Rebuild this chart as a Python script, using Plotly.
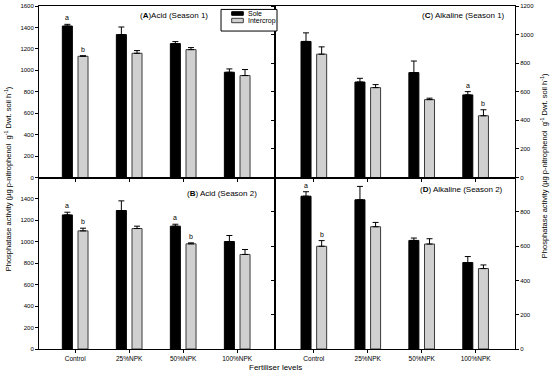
import plotly.graph_objects as go
from plotly.subplots import make_subplots

categories = ["Control", "25%NPK", "50%NPK", "100%NPK"]

# (A) Acid Season 1
a_sole = [1413, 1333, 1249, 982]
a_sole_err = [16, 71, 19, 31]
a_inter = [1131, 1159, 1193, 951]
a_inter_err = [5, 25, 19, 56]
a_sole_let = ["a", "", "", ""]
a_inter_let = ["b", "", "", ""]

# (B) Acid Season 2
b_sole = [1251, 1292, 1146, 1003]
b_sole_err = [25, 90, 18, 56]
b_inter = [1102, 1124, 981, 882]
b_inter_err = [25, 22, 9, 46]
b_sole_let = ["a", "", "a", ""]
b_inter_let = ["b", "", "b", ""]

# (C) Alkaline Season 1
c_sole = [952, 668, 734, 578]
c_sole_err = [60, 26, 81, 23]
c_inter = [863, 629, 545, 432]
c_inter_err = [51, 21, 10, 42]
c_sole_let = ["", "", "", "a"]
c_inter_let = ["", "", "", "b"]

# (D) Alkaline Season 2
d_sole = [891, 870, 633, 504]
d_sole_err = [26, 78, 14, 35]
d_inter = [599, 713, 612, 469]
d_inter_err = [33, 25, 31, 21]
d_sole_let = ["a", "", "", ""]
d_inter_let = ["b", "", "", ""]

left_ticks_top = [0, 200, 400, 600, 800, 1000, 1200, 1400, 1600]
left_ticks_bot = [0, 200, 400, 600, 800, 1000, 1200, 1400]
right_ticks_top = [0, 200, 400, 600, 800, 1000, 1200]
right_ticks_bot = [0, 200, 400, 600, 800]

series_names = ["Sole", "Intercrop"]
panel_titles = ["(<b>A</b>)Acid (Season 1)", "(<b>C</b>) Alkaline (Season 1)",
                "(<b>B</b>) Acid (Season 2)", "(<b>D</b>) Alkaline (Season 2)"]
ytitle = "Phosphatase activity (µg p-nitrophenol  g<sup>-1</sup> Dwt. soil h<sup>-1</sup>)"
xtitle = "Fertiliser levels"

FONT = "Liberation Sans, Arial, sans-serif"
SOLE_C = "#000000"
INTER_C = "#d0d0d0"
INTER_LINE = "#3a3a3a"

fig = make_subplots(rows=2, cols=2, horizontal_spacing=0, vertical_spacing=0,
                    column_widths=[0.4958, 0.5042])

panels = [
    (1, 1, a_sole, a_sole_err, a_inter, a_inter_err, a_sole_let, a_inter_let, "x", "y"),
    (1, 2, c_sole, c_sole_err, c_inter, c_inter_err, c_sole_let, c_inter_let, "x2", "y2"),
    (2, 1, b_sole, b_sole_err, b_inter, b_inter_err, b_sole_let, b_inter_let, "x3", "y3"),
    (2, 2, d_sole, d_sole_err, d_inter, d_inter_err, d_sole_let, d_inter_let, "x4", "y4"),
]

for i, (r, c, s, se, it, ie, sl, il, xr, yr) in enumerate(panels):
    fig.add_trace(go.Bar(
        x=categories, y=s, name=series_names[0], showlegend=False,
        marker=dict(color=SOLE_C, line=dict(color="#000000", width=1)),
        error_y=dict(type="data", symmetric=False, array=se, arrayminus=[0] * len(se),
                     color="#000000", thickness=1, width=3),
    ), row=r, col=c)
    fig.add_trace(go.Bar(
        x=categories, y=it, name=series_names[1], showlegend=False,
        marker=dict(color=INTER_C, line=dict(color=INTER_LINE, width=1)),
        error_y=dict(type="data", symmetric=False, array=ie, arrayminus=[0] * len(ie),
                     color="#000000", thickness=1, width=3),
    ), row=r, col=c)
    for k, cat in enumerate(categories):
        if sl[k]:
            fig.add_annotation(x=cat, y=s[k] + se[k], xref=xr, yref=yr, text=sl[k],
                               showarrow=False, xshift=-7.8, yshift=1, yanchor="bottom",
                               font=dict(size=7, color="black", family=FONT))
        if il[k]:
            fig.add_annotation(x=cat, y=it[k] + ie[k], xref=xr, yref=yr, text=il[k],
                               showarrow=False, xshift=7.8, yshift=1, yanchor="bottom",
                               font=dict(size=7, color="black", family=FONT))

title_pos = [("x domain", "y domain", 0.724, 0.942),
             ("x2 domain", "y2 domain", 0.968, 0.942),
             ("x3 domain", "y3 domain", 0.932, 0.907),
             ("x4 domain", "y4 domain", 0.958, 0.928)]
for t, (xr, yr, xx, yy) in zip(panel_titles, title_pos):
    fig.add_annotation(x=xx, y=yy, xref=xr, yref=yr, text=t, showarrow=False,
                       xanchor="right", yanchor="middle",
                       font=dict(size=8, color="black", family=FONT))

axis_common = dict(showline=True, linecolor="#000000", linewidth=1, ticks="outside",
                   ticklen=3, tickcolor="#000000", showgrid=False, zeroline=False,
                   automargin=False,
                   tickfont=dict(size=6, color="black", family=FONT))

for r, c, rng in [(1, 1, [-0.67, 3.70]), (1, 2, [-0.72, 3.73]),
                  (2, 1, [-0.67, 3.70]), (2, 2, [-0.72, 3.73])]:
    fig.update_xaxes(**axis_common, mirror=True, range=rng, showticklabels=(r == 2),
                     row=r, col=c)
fig.update_xaxes(tickfont=dict(size=6.5, color="black", family=FONT), row=2)

fig.update_yaxes(**axis_common, mirror=True, range=[0, 1600], tickvals=left_ticks_top,
                 row=1, col=1)
fig.update_yaxes(**axis_common, mirror=True, range=[0, 1600], tickvals=left_ticks_bot,
                 row=2, col=1)
fig.update_yaxes(**axis_common, mirror="ticks", range=[0, 1200], tickvals=right_ticks_top,
                 side="right", row=1, col=2)
fig.update_yaxes(**axis_common, mirror="ticks", range=[0, 1000], tickvals=right_ticks_bot,
                 side="right", row=2, col=2)

fig.add_annotation(x=0.496, y=-0.055, xref="paper", yref="paper", text=xtitle,
                   showarrow=False, xanchor="center", yanchor="middle",
                   font=dict(size=8, color="black", family=FONT))
fig.add_annotation(x=-0.065, y=0.495, xref="paper", yref="paper", text=ytitle,
                   textangle=-90, showarrow=False, xanchor="center", yanchor="middle",
                   font=dict(size=7.5, color="black", family=FONT))
fig.add_annotation(x=1.061, y=0.533, xref="paper", yref="paper", text=ytitle,
                   textangle=-90, showarrow=False, xanchor="center", yanchor="middle",
                   font=dict(size=7.5, color="black", family=FONT))

# legend box (drawn in paper coordinates, top-right of panel A)
fig.add_shape(type="rect", xref="paper", yref="paper", x0=0.3824, x1=0.5, y0=0.927, y1=0.990,
              line=dict(color="black", width=1), fillcolor="white", layer="above")
fig.add_shape(type="rect", xref="paper", yref="paper", x0=0.4048, x1=0.4292,
              y0=0.9729, y1=0.9834, line=dict(color="black", width=1), fillcolor=SOLE_C,
              layer="above")
fig.add_shape(type="rect", xref="paper", yref="paper", x0=0.4048, x1=0.4292,
              y0=0.9513, y1=0.9641, line=dict(color=INTER_LINE, width=1), fillcolor=INTER_C,
              layer="above")
fig.add_annotation(x=0.4340, y=0.9781, xref="paper", yref="paper", text=series_names[0],
                   showarrow=False, xanchor="left", yanchor="middle",
                   font=dict(size=7, color="black", family=FONT))
fig.add_annotation(x=0.4340, y=0.9577, xref="paper", yref="paper", text=series_names[1],
                   showarrow=False, xanchor="left", yanchor="middle",
                   font=dict(size=7, color="black", family=FONT))

fig.update_layout(
    width=550, height=376,
    margin=dict(l=39, r=35, t=6, b=27, autoexpand=False),
    paper_bgcolor="white", plot_bgcolor="white",
    barmode="group", bargap=0.42, bargroupgap=0.36,
    font=dict(family=FONT, color="black"),
    showlegend=False,
)

fig.write_html("out.html", config={"displayModeBar": False},
               post_script="document.body.style.margin='0';document.body.style.overflow='hidden';")
